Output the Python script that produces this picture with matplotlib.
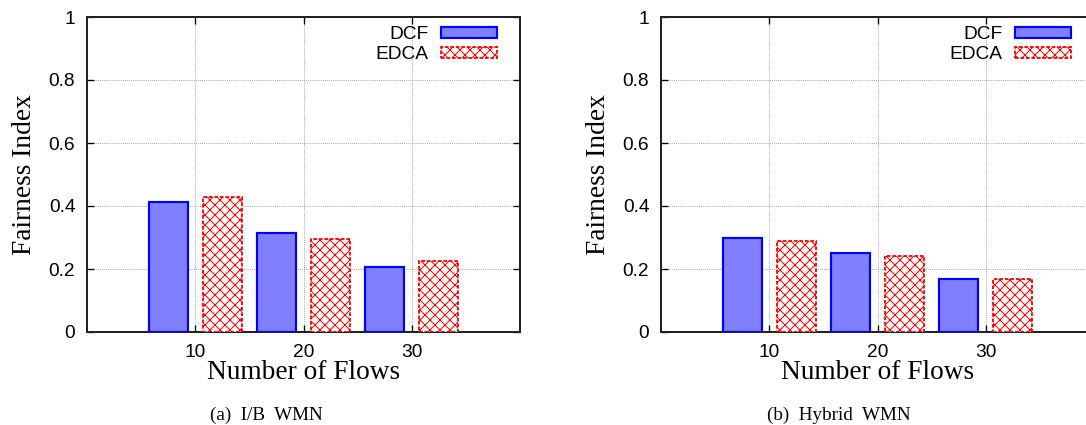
import numpy as np
import matplotlib
matplotlib.use("Agg")
import matplotlib.pyplot as plt

# ------------------------------------------------------------------ #
#   Datos
# ------------------------------------------------------------------ #
flows = [10, 20, 30]
series = ["DCF", "EDCA"]
dcf_ib = [0.414, 0.315, 0.207]
edca_ib = [0.428, 0.295, 0.225]
dcf_hybrid = [0.298, 0.250, 0.169]
edca_hybrid = [0.290, 0.242, 0.169]
yticks = [0, 0.2, 0.4, 0.6, 0.8, 1]
ytick_labels = ["0", "0.2", "0.4", "0.6", "0.8", "1"]
captions = ["(a)  I/B  WMN", "(b)  Hybrid  WMN"]

plt.rcParams["hatch.linewidth"] = 0.6

W, H, DPI = 1086, 425, 120
fig = plt.figure(figsize=(W / DPI, H / DPI), dpi=DPI)

sans = "Liberation Sans"
serif = "Liberation Serif"


def draw_panel(ax, dcf, edca):
    x = np.array(flows, dtype=float)
    ax.bar(x - 2.5, dcf, width=3.6, color="#8080ff", edgecolor="#0000ff",
           linewidth=1.3, label=series[0], zorder=3)
    ax.bar(x + 2.5, edca, width=3.6, color="white", edgecolor="#ff0000",
           hatch="xxxx", linewidth=1.1, linestyle=(0, (2, 1)),
           label=series[1], zorder=3)

    # Ejes
    ax.set_xlim(0, 40)
    ax.set_ylim(0, 1)
    ax.set_xticks(flows)
    ax.set_xticklabels([str(f) for f in flows], fontfamily=sans, fontsize=11.5)
    ax.set_yticks(yticks)
    ax.set_yticklabels(ytick_labels, fontfamily=sans, fontsize=11.5)
    ax.tick_params(direction="in", length=4, width=0.8, top=True, right=True,
                   pad=7)
    for s in ax.spines.values():
        s.set_linewidth(1.2)
        s.set_color("#222222")
    ax.grid(True, linestyle=(0, (1, 1.5)), color="#888888", linewidth=0.5)
    ax.set_axisbelow(True)

    ax.set_xlabel("Number of Flows", fontfamily=serif, fontsize=16.4)
    ax.set_ylabel("Fairness Index", fontfamily=serif, fontsize=16.4)
    ax.xaxis.set_label_coords(0.5, -0.09)
    ax.yaxis.set_label_coords(-0.115, 0.5)

    ax.legend(loc="upper right", bbox_to_anchor=(0.946, 0.97),
              frameon=False, markerfirst=False, borderaxespad=0,
              handlelength=2.9, handleheight=0.55, handletextpad=0.65,
              labelspacing=0.15, borderpad=0,
              prop={"family": sans, "size": 11.5})


ax1 = fig.add_axes([87 / W, (H - 332) / H, 433 / W, 315 / H])
draw_panel(ax1, dcf_ib, edca_ib)

ax2 = fig.add_axes([661 / W, (H - 332) / H, 433 / W, 315 / H])
draw_panel(ax2, dcf_hybrid, edca_hybrid)

# Subtítulos
fig.text(266 / W, (H - 415) / H, captions[0], ha="center", va="center",
         fontfamily=serif, fontsize=11.5)
fig.text(839 / W, (H - 415) / H, captions[1], ha="center", va="center",
         fontfamily=serif, fontsize=11.5)

fig.savefig("out.png", dpi=DPI)
plt.close(fig)
